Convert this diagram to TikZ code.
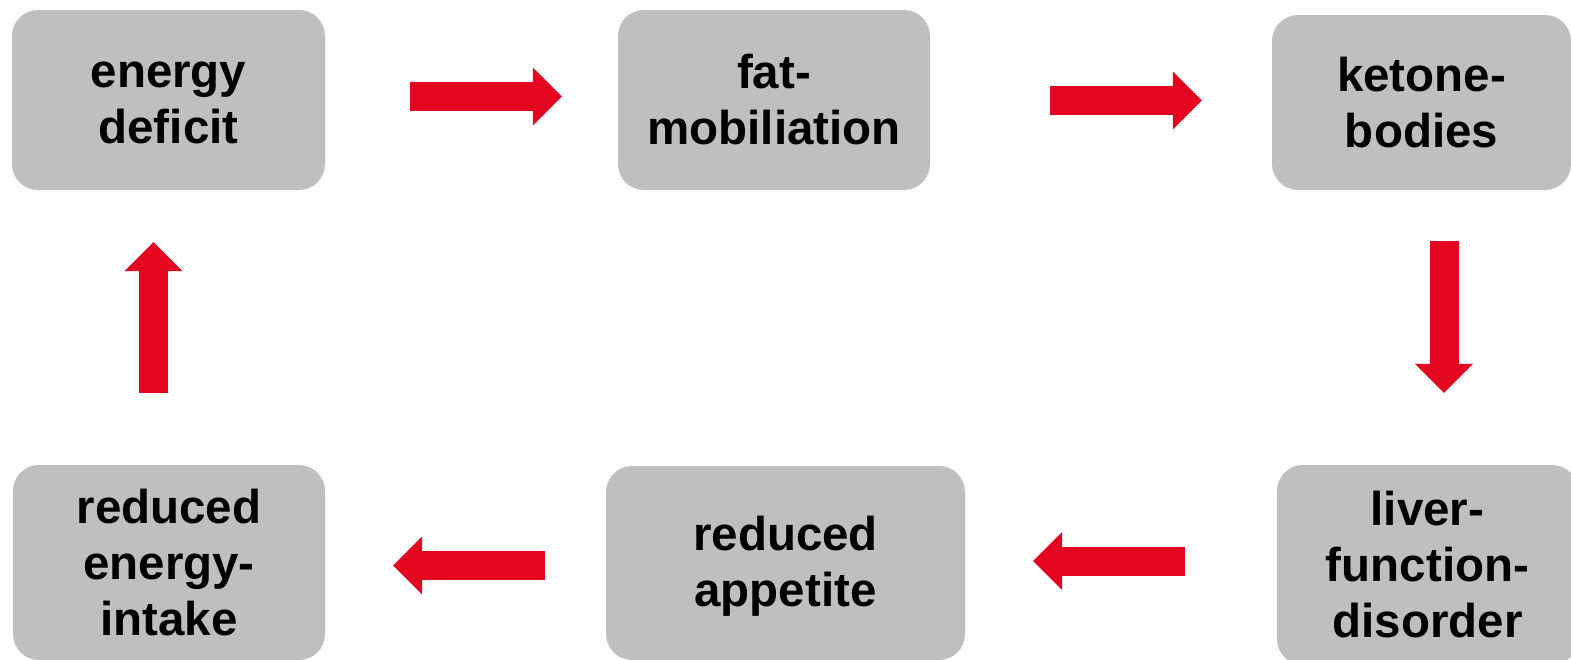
\documentclass[tikz,border=0pt]{standalone}
\usepackage{fontspec}
\setmainfont{Liberation Sans}
\usetikzlibrary{arrows.meta}
\definecolor{boxgray}{RGB}{191,191,191}
\definecolor{arrred}{RGB}{228,6,32}
\newcommand{\lowtext}[1]{\raisebox{-4pt}[\dimexpr\height+4pt\relax][\dimexpr\depth+4pt\relax]{\begin{tabular}{@{}c@{}}#1\end{tabular}}}
\begin{document}
\begin{tikzpicture}[x=1pt,y=-1pt,
  box/.style={fill=boxgray, rounded corners=26pt, align=center, inner sep=0pt,
    font=\fontsize{47.5}{56}\selectfont\bfseries},
  blk/.style={draw=arrred, line width=29pt,
    -{Triangle[width=58pt,length=29pt,line width=0pt]}}]
\useasboundingbox (0,0) rectangle (1571,659);
\node[box, minimum width=313pt, minimum height=180pt] (e1) at (168.5,100) {\lowtext{energy\\deficit}};
\node[box, minimum width=312pt, minimum height=180pt] (e2) at (774,100) {fat-\\mobiliation};
\node[box, minimum width=299pt, minimum height=175pt] (e3) at (1421.5,102.5) {ketone-\\bodies};
\node[box, minimum width=301pt, minimum height=200pt] (e4) at (1427.5,565) {liver-\\function-\\disorder};
\node[box, minimum width=359pt, minimum height=194pt] (e5) at (785.5,563) {\lowtext{reduced\\appetite}};
\node[box, minimum width=312pt, minimum height=195pt] (e6) at (169,562.5) {reduced\\energy-\\intake};
\coordinate (s1) at ([yshift=3.5pt]e1.east);
\coordinate (s2) at ([yshift=-0.5pt]e2.east);
\coordinate (s3) at ([xshift=22.5pt]e3.south);
\coordinate (s4) at ([yshift=4pt]e4.west);
\coordinate (s5) at ([yshift=-2.5pt]e5.west);
\coordinate (s6) at ([xshift=-15.5pt]e6.north);
\draw[blk, shorten <=85pt, shorten >=56pt] (s1) -- (s1 -| e2.west);
\draw[blk, shorten <=120pt, shorten >=70pt] (s2) -- (s2 -| e3.west);
\draw[blk, shorten <=51pt, shorten >=72pt] (s3) -- (s3 |- e4.north);
\draw[blk, shorten <=92pt, shorten >=68pt] (s4) -- (s4 -| e5.east);
\draw[blk, shorten <=61pt, shorten >=68pt] (s5) -- (s5 -| e6.east);
\draw[blk, shorten <=72pt, shorten >=52pt] (s6) -- (s6 |- e1.south);
\end{tikzpicture}
\end{document}
